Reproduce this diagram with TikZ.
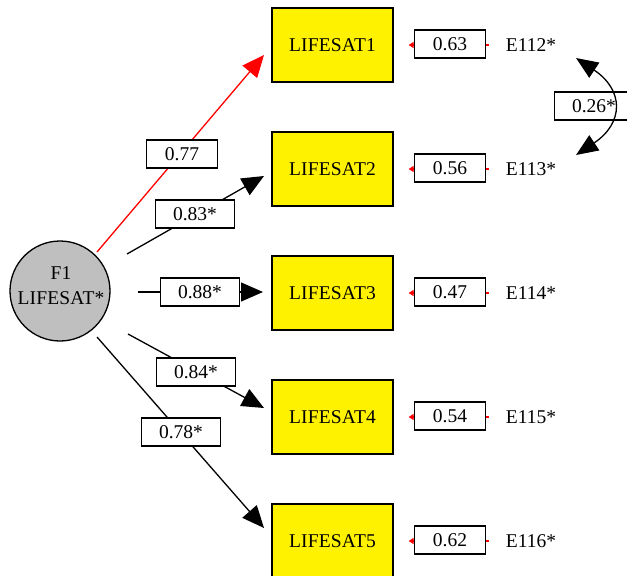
\documentclass[tikz,border=0pt]{standalone}
\usepackage{fontspec}
\setmainfont{Liberation Serif}
\usetikzlibrary{arrows.meta}
\begin{document}
\begin{tikzpicture}[x=1pt,y=-1pt,
  txt/.style={font=\fontsize{19.5}{24}\selectfont},
  sp/.style={font=\fontsize{19.5}{24}\selectfont\addfontfeatures{LetterSpace=1}},
  factor/.style={circle, draw, line width=1.3pt, fill=black!25, minimum size=100pt, inner sep=0pt},
  factortext/.style={inner sep=0pt, align=center, sp},
  obs/.style={draw, line width=1.3pt, fill=yellow, minimum width=121pt, minimum height=74pt, inner sep=0pt, sp},
  lab/.style={draw, line width=1.1pt, fill=white, minimum height=28pt, inner xsep=18pt, inner ysep=0pt, txt},
  errname/.style={inner sep=0pt, txt},
  loadarrow/.style={line width=1.3pt, -{Triangle[length=22pt,width=19pt]}},
  errarrow/.style={red, line width=1.3pt, -{Triangle[length=5pt,width=6pt]}, shorten <=17pt, shorten >=15pt},
  corr/.style={line width=1.3pt, {Triangle[length=22pt,width=18pt]}-{Triangle[length=22pt,width=18pt]}}
]
\clip (0,0) rectangle (627,576);

% factor
\node[factor] (F1) at (60,291) {};
\node[factortext] (F1t) at (61,286) {F1\\[1pt]LIFESAT*};

% observed variables
\node[obs] (L1) at (332.5,45) {LIFESAT1};
\node[obs] (L2) at (332.5,169) {LIFESAT2};
\node[obs] (L3) at (332.5,293) {LIFESAT3};
\node[obs] (L4) at (332.5,417) {LIFESAT4};
\node[obs] (L5) at (332.5,541) {LIFESAT5};

% error names
\node[errname] (E1) at (531,45) {E112*};
\node[errname] (E2) at (531,169) {E113*};
\node[errname] (E3) at (531,293) {E114*};
\node[errname] (E4) at (531,417) {E115*};
\node[errname] (E5) at (531,541) {E116*};

% error paths
\draw[errarrow] (E1.west) -- (L1.east);
\draw[errarrow] (E2.west) -- (L2.east);
\draw[errarrow] (E3.west) -- (L3.east);
\draw[errarrow] (E4.west) -- (L4.east);
\draw[errarrow] (E5.west) -- (L5.east);

\node[lab] (e1) at (450,44) {0.63};
\node[lab] (e2) at (450,168) {0.56};
\node[lab] (e3) at (450,292) {0.47};
\node[lab] (e4) at (450,416) {0.54};
\node[lab] (e5) at (450,540) {0.62};

% loading paths
\coordinate (s1) at (97,252);
\coordinate (s2) at (127,254);
\coordinate (s3) at (138,292);
\coordinate (s4) at (128,334);
\coordinate (s5) at (97,337);
\coordinate (t1) at (264,55);
\coordinate (t2) at (264,176);
\coordinate (t3) at (263,292);
\coordinate (t4) at (264,408);
\coordinate (t5) at (264,528);

\draw[loadarrow, red] (s1) -- (t1);
\draw[loadarrow] (s2) -- (t2);
\draw[loadarrow] (s3) -- (t3);
\draw[loadarrow] (s4) -- (t4);
\draw[loadarrow] (s5) -- (t5);

\node[lab] (w1) at (182,154) {0.77};
\node[lab] (w2) at (195,214) {0.83*};
\node[lab] (w3) at (200,292) {0.88*};
\node[lab] (w4) at (196,372) {0.84*};
\node[lab] (w5) at (181,432) {0.78*};

% correlation
\node[lab] (c12) at (594,106) {0.26*};
\coordinate (cu) at (576,58);
\coordinate (cl) at (576,155);
\draw[corr] (cu) .. controls (624,90) and (624,123) .. (cl);
\end{tikzpicture}
\end{document}
